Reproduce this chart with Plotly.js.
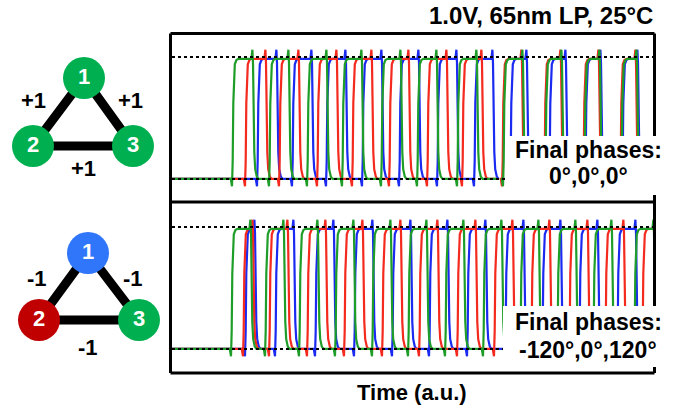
<!DOCTYPE html>
<html>
<head>
<meta charset="utf-8">
<script src="https://cdn.plot.ly/plotly-3.0.1.min.js"></script>
<style>html,body{margin:0;padding:0;background:#fff;}#chart{width:693px;height:413px;}</style>
</head>
<body>
<div id="chart"></div>
<script>
// ---------- DATA (time in a.u.) ----------
const topSegments = [[2, 327], [331, 485]];
const topGreenRise = [63, 100, 138, 173, 212, 248, 288, 334, 376, 415, 452];
const topGreenFall = [84, 120, 158, 193, 232, 268, 308, 354, 393, 431, 468];
const topRedRise   = [76, 110, 148, 183, 220, 258, 293, 333, 375, 414, 451];
const topRedFall   = [97, 130, 168, 203, 240, 278, 313, 353, 392, 430, 467];
const topBlueRise  = [88, 123, 157, 193, 230, 268, 305, 341, 380, 416, 453];
const topBlueFall  = [108, 143, 177, 213, 250, 288, 324, 358, 397, 432, 469];

const botSegments = [[2, 485]];
const botGreenRise = [62, 96, 130, 166, 203, 239, 276, 314, 351, 388, 424, 465];
const botGreenFall = [82, 115, 149, 185, 222, 258, 295, 333, 370, 407, 443, 485];
const botRedRise   = [74, 100, 138, 175, 213, 250, 288, 325, 362, 400, 436, 473];
const botRedFall   = [84, 119, 157, 194, 232, 269, 307, 344, 381, 419, 455, 492];
const botBlueRise  = [76, 106, 146, 185, 223, 260, 298, 336, 373, 410, 448];
const botBlueFall  = [86, 125, 165, 204, 242, 279, 317, 355, 392, 429, 467];

const nodeLabels = ['1', '2', '3'];
const topNodeX = [84, 33, 133];
const topNodeY = [78, 146, 146];
const botNodeX = [88, 39, 139];
const botNodeY = [253, 320, 320];
const topWeights = ['+1', '+1', '+1'];
const botWeights = ['-1', '-1', '-1'];
const titleText = '1.0V, 65nm LP, 25°C';
const topPhaseText = '0°,0°,0°';
const botPhaseText = '-120°,0°,120°';
const xTitleText = 'Time (a.u.)';

// ---------- STYLE ----------
const W = 693, H = 413;
const GREEN = '#1e9e28', RED = '#f42a1e', BLUE = '#1a2af0';
const NG = '#00b050', NB = '#2f76fb', NR = '#c00000';
const FONT = 'Liberation Sans, Arial, sans-serif';
const riseShape = [[-2.2,0],[-1.0,-0.06],[-0.3,0.15],[0.3,0.62],[0.9,0.84],[1.8,0.94],[3.4,0.975],[5.5,0.985]];
const fallShape = [[-2.6,0.985],[-1.6,1.06],[-1.0,0.95],[-0.4,0.55],[0.3,0.22],[1.2,0.08],[2.8,0.02],[4.5,0]];

function buildWave(rises, falls, segments) {
  const x = [], y = [];
  segments.forEach(([s, e], k) => {
    if (k > 0) { x.push(null); y.push(null); }
    x.push(s); y.push(0);
    let lastX = s;
    rises.forEach((r, i) => {
      if (r >= s && r <= e) {
        const f = falls[i];
        riseShape.forEach(([dx, v]) => { x.push(r + dx); y.push(v); });
        fallShape.forEach(([dx, v]) => { x.push(f + dx); y.push(v); });
        lastX = f + 4.5;
      }
    });
    if (e > lastX) { x.push(e); y.push(0); }
  });
  return {x, y};
}
function waveTrace(r, f, seg, color, yax) {
  const w = buildWave(r, f, seg);
  return {x: w.x, y: w.y, xaxis: 'x', yaxis: yax, mode: 'lines', type: 'scatter',
          line: {color: color, width: 2.2}, hoverinfo: 'skip', connectgaps: false};
}
function dotted(y, x0, x1, yax) {
  return {x: [x0, x1], y: [y, y], xaxis: 'x', yaxis: yax, mode: 'lines', type: 'scatter',
          line: {color: '#000', width: 2, dash: '3px,3px'}, hoverinfo: 'skip'};
}
function triEdges(nx, ny) {
  return {x: [nx[0], nx[1], nx[2], nx[0]], y: [ny[0], ny[1], ny[2], ny[0]], xaxis: 'x3', yaxis: 'y3',
          mode: 'lines', type: 'scatter', line: {color: '#000', width: 9}, hoverinfo: 'skip'};
}
function triNodes(nx, ny, colors) {
  return {x: nx, y: ny, xaxis: 'x3', yaxis: 'y3', mode: 'markers+text', type: 'scatter',
          text: nodeLabels.map(t => '<b>' + t + '</b>'), textposition: 'middle center',
          textfont: {family: FONT, size: 22, color: '#fff'},
          marker: {size: 42, color: colors, line: {width: 0}}, hoverinfo: 'skip'};
}

const traces = [
  waveTrace(topBlueRise, topBlueFall, topSegments, BLUE, 'y'),
  waveTrace(topRedRise, topRedFall, topSegments, RED, 'y'),
  waveTrace(topGreenRise, topGreenFall, topSegments, GREEN, 'y'),
  waveTrace(botBlueRise, botBlueFall, botSegments, BLUE, 'y2'),
  waveTrace(botRedRise, botRedFall, botSegments, RED, 'y2'),
  waveTrace(botGreenRise, botGreenFall, botSegments, GREEN, 'y2'),
  dotted(1, 2, 483, 'y'), dotted(0, 2, 483, 'y'),
  dotted(1, 2, 483, 'y2'), dotted(0, 2, 483, 'y2'),
  triEdges(topNodeX, topNodeY), triNodes(topNodeX, topNodeY, [NG, NG, NG]),
  triEdges(botNodeX, botNodeY), triNodes(botNodeX, botNodeY, [NB, NR, NG])
];

const px = v => v / W, py = v => 1 - v / H;
function line(x0, y0, x1, y1) {
  return {type: 'line', xref: 'paper', yref: 'paper', x0: px(x0), y0: py(y0), x1: px(x1), y1: py(y1),
          line: {color: '#000', width: 3}, layer: 'above'};
}
function white(x0, y0, x1, y1) {
  return {type: 'rect', xref: 'paper', yref: 'paper', x0: px(x0), y0: py(y0), x1: px(x1), y1: py(y1),
          fillcolor: '#fff', line: {width: 0}, layer: 'above'};
}
const shapes = [
  line(170.5, 33.5, 170.5, 373), line(170.5, 33.5, 654.5, 33.5), line(170.5, 202, 654.5, 202),
  line(170.5, 373, 654.5, 373), line(654.5, 33.5, 654.5, 373),
  white(505, 136, 693, 195), white(503, 306, 693, 367)
];
function ann(text, x, y, size, xanchor, xref, yref) {
  return {text: '<b>' + text + '</b>', x: x, y: y, xref: xref || 'paper', yref: yref || 'paper',
          xanchor: xanchor || 'center', yanchor: 'middle', showarrow: false, borderpad: 0,
          font: {family: FONT, size: size, color: '#000'}};
}
const annotations = [
  ann(titleText, px(654), py(16), 24, 'right'),
  ann('Final phases:', px(588), py(150), 23),
  ann(topPhaseText, px(588), py(176), 23),
  ann('Final phases:', px(588), py(322), 23),
  ann(botPhaseText, px(588), py(350), 23),
  ann(xTitleText, px(412), py(392), 22),
  ann(topWeights[0], 33, 100, 22, 'center', 'x3', 'y3'),
  ann(topWeights[1], 130, 100, 22, 'center', 'x3', 'y3'),
  ann(topWeights[2], 83, 168, 22, 'center', 'x3', 'y3'),
  ann(botWeights[0], 37, 278, 22, 'center', 'x3', 'y3'),
  ann(botWeights[1], 133, 278, 22, 'center', 'x3', 'y3'),
  ann(botWeights[2], 88, 347, 22, 'center', 'x3', 'y3')
];
const hidden = {visible: false, showgrid: false, zeroline: false, fixedrange: true};
const layout = {
  width: W, height: H, margin: {l: 0, r: 0, t: 0, b: 0, pad: 0},
  paper_bgcolor: '#fff', plot_bgcolor: 'rgba(0,0,0,0)', showlegend: false,
  xaxis: Object.assign({domain: [170 / W, 655 / W], range: [0, 485], anchor: 'y'}, hidden),
  yaxis: Object.assign({domain: [py(202), py(33)], range: [-0.189, 1.197], anchor: 'x'}, hidden),
  yaxis2: Object.assign({domain: [py(373), py(202)], range: [-0.197, 1.205], anchor: 'x'}, hidden),
  xaxis3: Object.assign({domain: [0, 170 / W], range: [0, 170], anchor: 'y3'}, hidden),
  yaxis3: Object.assign({domain: [0, 1], range: [413, 0], anchor: 'x3'}, hidden),
  shapes: shapes, annotations: annotations
};
Plotly.newPlot('chart', traces, layout, {staticPlot: true, displayModeBar: false});
</script>
</body>
</html>
